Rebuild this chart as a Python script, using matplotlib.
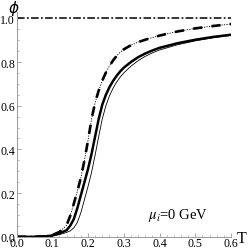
import matplotlib
matplotlib.use("Agg")
import matplotlib.pyplot as plt
import numpy as np

T = [0.00, 0.05, 0.08, 0.10, 0.12, 0.14, 0.15, 0.16, 0.17, 0.18, 0.19, 0.20, 0.21, 0.22,
     0.23, 0.24, 0.25, 0.26, 0.27, 0.28, 0.29, 0.30, 0.32, 0.34, 0.36, 0.38, 0.40, 0.45,
     0.50, 0.55, 0.60]
phi_dashed = [0.0, 0.0, 0.002, 0.008, 0.022, 0.052, 0.095, 0.150, 0.207, 0.27, 0.35, 0.44,
              0.54, 0.615, 0.67, 0.715, 0.752, 0.782, 0.807, 0.828, 0.845, 0.858, 0.877,
              0.891, 0.902, 0.912, 0.921, 0.940, 0.954, 0.965, 0.974]
phi_thick = [0.0, 0.0, 0.002, 0.006, 0.016, 0.030, 0.050, 0.080, 0.130, 0.19, 0.25, 0.31,
             0.38, 0.46, 0.54, 0.605, 0.65, 0.685, 0.713, 0.737, 0.757, 0.774, 0.800,
             0.822, 0.839, 0.853, 0.865, 0.886, 0.902, 0.915, 0.925]
phi_thin = [0.0, 0.0, 0.001, 0.004, 0.010, 0.020, 0.027, 0.040, 0.065, 0.11, 0.17, 0.23,
            0.295, 0.375, 0.46, 0.54, 0.60, 0.645, 0.68, 0.708, 0.731, 0.75, 0.781, 0.806,
            0.826, 0.842, 0.855, 0.879, 0.897, 0.911, 0.922]
phi_const = [1.0, 1.0]
T_const = [0.0, 0.6]

xticks = [0.0, 0.1, 0.2, 0.3, 0.4, 0.5, 0.6]
yticks = [0.0, 0.2, 0.4, 0.6, 0.8, 1.0]

serif = ["Liberation Serif", "DejaVu Serif"]
gray = "#9a9a9a"

fig = plt.figure(figsize=(2.49, 2.51), dpi=100)
ax = fig.add_axes([16.5/249, 13.2/251, (231-16.5)/249, 225/251])

ax.plot(T_const, phi_const, color="black", lw=1.1, linestyle=(0, (5, 1.5, 1.2, 1.5)))
ax.plot(T, phi_thin, color="black", lw=0.6)
ax.plot(T, phi_thick, color="black", lw=1.8)
ax.plot(T, phi_dashed, color="black", lw=0.6, linestyle=(0, (1.5, 1.5)))
ax.plot(T, phi_dashed, color="black", lw=1.9, linestyle=(0, (3.5, 3.5)))

ax.set_xlim(0, 0.6)
ax.set_ylim(0, 1.03)
for s in ["top", "right"]:
    ax.spines[s].set_visible(False)
for s in ["left", "bottom"]:
    ax.spines[s].set_color(gray)
    ax.spines[s].set_linewidth(0.7)

ax.set_xticks(xticks)
ax.set_yticks(yticks)
ax.set_xticklabels(["%.1f" % v for v in xticks], fontfamily=serif, fontsize=8.5)
ax.set_yticklabels(["%.1f" % v for v in yticks], fontfamily=serif, fontsize=8.5)
ax.set_xticks(np.arange(0, 0.601, 0.02), minor=True)
ax.set_yticks(np.arange(0, 1.001, 0.05), minor=True)
ax.tick_params(which="major", direction="in", length=3, width=0.6, color=gray, pad=1)
ax.tick_params(which="minor", direction="in", length=1.7, width=0.5, color=gray)
ax.tick_params(axis="x", pad=0.5)

fig.text(14/249, 1-9/251, "$\\phi$", fontsize=11, ha="center", va="center")
fig.text(242/249, 1-239/251, "T", fontfamily=serif, fontsize=11.5, ha="center", va="center")
ax.text(0.451, 0.10, "$\\mu_i$=0 GeV", fontfamily=serif, fontsize=10.5, ha="center", va="center",
        math_fontfamily="stix")

fig.savefig("out.png", dpi=100)
